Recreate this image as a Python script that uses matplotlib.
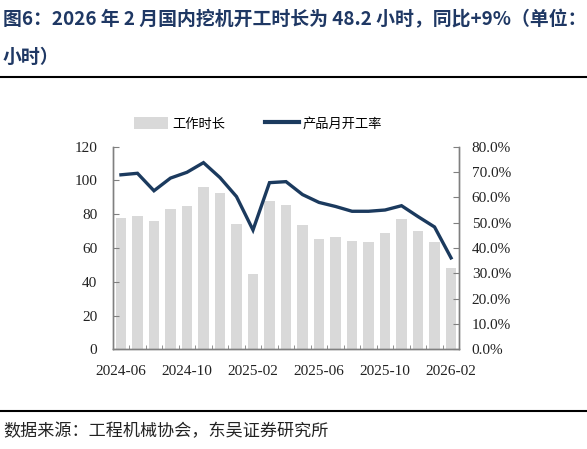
import matplotlib
matplotlib.use("Agg")
import matplotlib.pyplot as plt
from matplotlib.ticker import FuncFormatter, MultipleLocator
from matplotlib.patches import Patch
from matplotlib.lines import Line2D
import numpy as np

months = ["2024-06", "2024-07", "2024-08", "2024-09", "2024-10", "2024-11", "2024-12",
          "2025-01", "2025-02", "2025-03", "2025-04", "2025-05", "2025-06", "2025-07",
          "2025-08", "2025-09", "2025-10", "2025-11", "2025-12", "2026-01", "2026-02"]
work_hours = [77.6, 79.2, 76.0, 83.2, 85.0, 96.4, 92.7, 74.3, 44.6, 88.1, 85.5,
              73.7, 65.1, 66.5, 64.0, 63.4, 68.9, 77.0, 70.3, 63.4, 48.2]
utilization = [68.9, 69.5, 62.6, 67.6, 69.9, 73.7, 67.8, 60.3, 47.1, 65.8, 66.2,
               61.1, 58.0, 56.4, 54.5, 54.5, 55.0, 56.7, 52.4, 48.3, 36.1]
label_every = 4

title1 = "图6：2026 年 2 月国内挖机开工时长为 48.2 小时，同比+9%（单位："
title2 = "小时）"
source = "数据来源：工程机械协会，东吴证券研究所"
bar_name = "工作时长"
line_name = "产品月开工率"

BAR_C = "#D9D9D9"
LINE_C = "#1B3A5E"
TITLE_C = "#1F3864"
SERIF = ["Liberation Serif", "Noto Sans CJK SC"]
CJK = ["Noto Sans CJK SC", "DejaVu Sans"]

fig = plt.figure(figsize=(5.87, 4.49), dpi=100)
W, H = 587, 449
ax = fig.add_axes([112.7 / W, 1 - 349.3 / H, (459.3 - 112.7) / W, (349.3 - 146.7) / H])
ax2 = ax.twinx()

x = np.arange(len(months))
ax.bar(x, work_hours, width=0.65, color=BAR_C, zorder=1)
ax2.plot(x, utilization, color=LINE_C, lw=2.4, zorder=3, solid_joinstyle="miter")

ax.set_xlim(-0.5, len(months) - 0.5)
ax.set_ylim(0, 120)
ax.yaxis.set_major_locator(MultipleLocator(20))
ax2.set_ylim(0, 80)
ax2.yaxis.set_major_locator(MultipleLocator(10))
ax2.yaxis.set_major_formatter(FuncFormatter(lambda v, p: f"{v:.1f}%"))

ax.set_xticks(x[::label_every])
ax.set_xticklabels(months[::label_every])
ax.set_xticks(np.arange(-0.5, len(months), 1.0), minor=True)
ax.tick_params(axis="x", which="major", length=0, pad=11)
ax.tick_params(axis="x", which="minor", direction="in", length=3, color="#808080")
ax.tick_params(axis="y", direction="in", length=4, color="#808080", pad=11)
ax2.tick_params(axis="y", direction="in", length=4, color="#808080", pad=9)

for a in (ax, ax2):
    for lab in a.get_xticklabels() + a.get_yticklabels():
        lab.set_fontfamily(SERIF)
        lab.set_fontsize(11)
        lab.set_color("#222222")
    a.spines["top"].set_visible(False)
    for s in ("left", "right", "bottom"):
        a.spines[s].set_color("#808080")
        a.spines[s].set_linewidth(1.0)

ax.set_zorder(ax2.get_zorder() - 1)
ax2.patch.set_visible(False)

# legend
handles = [Patch(facecolor=BAR_C, edgecolor="none"), Line2D([0], [0], color=LINE_C, lw=3)]
leg = fig.legend(handles, [bar_name, line_name], loc="center", bbox_to_anchor=(258 / W, 1 - 124 / H),
                 ncol=2, frameon=False, prop={"family": CJK, "size": 9.5},
                 handlelength=2.6, handleheight=1.0, columnspacing=3.0, handletextpad=0.3)

# title
fig.text(3 / W, 1 - 20 / H, title1, fontsize=13.6, fontweight="bold", color=TITLE_C,
         family=CJK, va="center", ha="left")
fig.text(3 / W, 1 - 57 / H, title2, fontsize=13.6, fontweight="bold", color=TITLE_C,
         family=CJK, va="center", ha="left")
fig.add_artist(Line2D([0, 1], [1 - 76.5 / H, 1 - 76.5 / H], color="black", lw=1.5))
fig.add_artist(Line2D([0, 1], [1 - 410.5 / H, 1 - 410.5 / H], color="black", lw=1.5))
fig.text(3 / W, 1 - 431 / H, source, fontsize=12.3, color="#222222", family=CJK,
         va="center", ha="left")

fig.savefig("out.png", dpi=100)
